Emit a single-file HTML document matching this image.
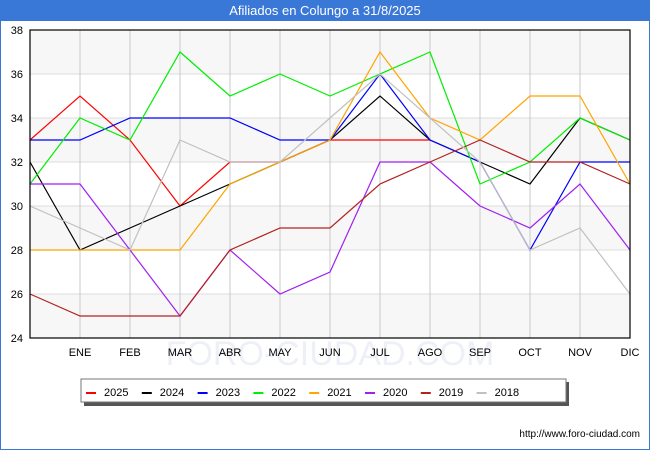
<!DOCTYPE html>
<html><head><meta charset="utf-8"><style>
body{margin:0;background:#fff;font-family:"Liberation Sans",sans-serif}
#wrap{position:relative;width:650px;height:450px;overflow:hidden}
</style></head><body>
<div id="wrap">
<svg id="svg" width="650" height="450" xmlns="http://www.w3.org/2000/svg">
<rect x="0" y="0" width="650" height="450" fill="#fff" stroke="#3a78d8" stroke-width="2"/>
<rect x="0" y="0" width="650" height="21" fill="#3a78d8"/>
<text x="325" y="15" text-anchor="middle" font-size="13" fill="#fff" font-family="Liberation Sans, sans-serif">Afiliados en Colungo a 31/8/2025</text>
<g id="plot"></g>
<text x="640" y="437" text-anchor="end" font-size="10" fill="#000" font-family="Liberation Sans, sans-serif">http://www.foro-ciudad.com</text>
</svg>
</div>
<script>
const categories=["","ENE","FEB","MAR","ABR","MAY","JUN","JUL","AGO","SEP","OCT","NOV","DIC"];
const yTicks=[24,26,28,30,32,34,36,38];
const seriesNames=["2025","2024","2023","2022","2021","2020","2019","2018"];
const seriesColors=["#ff0000","#000000","#0000ff","#00ee00","#ffa500","#a020f0","#b22222","#c0c0c0"];
const s2025=[33,35,33,30,32,32,33,33,33];
const s2024=[32,28,29,30,31,32,33,35,33,32,31,34,33];
const s2023=[33,33,34,34,34,33,33,36,33,32,28,32,32];
const s2022=[31,34,33,37,35,36,35,36,37,31,32,34,33];
const s2021=[28,28,28,28,31,32,33,37,34,33,35,35,31];
const s2020=[31,31,28,25,28,26,27,32,32,30,29,31,28];
const s2019=[26,25,25,25,28,29,29,31,32,33,32,32,31];
const s2018=[30,29,28,33,32,32,34,36,34,32,28,29,26];
const seriesData=[s2025,s2024,s2023,s2022,s2021,s2020,s2019,s2018];

const NS="http://www.w3.org/2000/svg";
const L=30,R=630,T=30,B=338,yMin=24,yMax=38;
const xs=i=>L+i*(R-L)/(categories.length-1);
const ys=v=>B-(v-yMin)*(B-T)/(yMax-yMin);
const g=document.getElementById('plot');
function mk(t,a){const e=document.createElementNS(NS,t);for(const k in a)e.setAttribute(k,a[k]);g.appendChild(e);return e;}
for(let i=0;i<yTicks.length-1;i++){
  if(i%2===0){const b=mk('rect',{x:L,y:ys(yTicks[i+1]),width:R-L,height:ys(yTicks[i])-ys(yTicks[i+1]),fill:'#f7f7f7'});
  
  }
}
const wm=mk('text',{x:330,y:365,'text-anchor':'middle','font-size':34,fill:'#eef0f8','font-family':'Liberation Sans, sans-serif'});
wm.textContent='FORO-CIUDAD.COM';


yTicks.forEach(v=>{
  const l=mk('line',{x1:L,x2:R,y1:ys(v),y2:ys(v),stroke:'#dddddd','stroke-width':1});
  
  
  const t=mk('text',{x:23,y:ys(v)+4,'text-anchor':'end','font-size':11,fill:'#000','font-family':'Liberation Sans, sans-serif'});
  t.textContent=v;
  
  
});
categories.forEach((c,i)=>{
  if(i>0){const l=mk('line',{x1:xs(i),x2:xs(i),y1:T,y2:B,stroke:'#c8c8c8','stroke-width':1});
  
  }
  const t=mk('text',{x:xs(i),y:356,'text-anchor':'middle','font-size':11,fill:'#000','font-family':'Liberation Sans, sans-serif'});
  t.textContent=c;
  
  
});
for(let k=0;k<seriesData.length;k++){
  const d=seriesData[k];
  const p=mk('polyline',{points:d.map((v,i)=>xs(i)+','+ys(v)).join(' '),fill:'none',stroke:seriesColors[k],'stroke-width':1.2});
  
  
}
const ax=mk('rect',{x:L,y:T,width:R-L,height:B-T,fill:'none',stroke:'#000','stroke-width':1.2});


const sh=mk('rect',{x:84,y:382,width:485,height:24,fill:'#555'});


const lb=mk('rect',{x:81,y:379,width:485,height:23,fill:'#fff',stroke:'#777','stroke-width':1});


seriesNames.forEach((n,k)=>{
  const x0=86+k*55.8;
  const sw=mk('rect',{x:x0,y:392,width:10,height:2,fill:seriesColors[k]});
  
  
  const t=mk('text',{x:x0+18,y:396,'font-size':11,fill:'#000','font-family':'Liberation Sans, sans-serif'});
  t.textContent=n;
  
  
});
</script>
</body></html>
